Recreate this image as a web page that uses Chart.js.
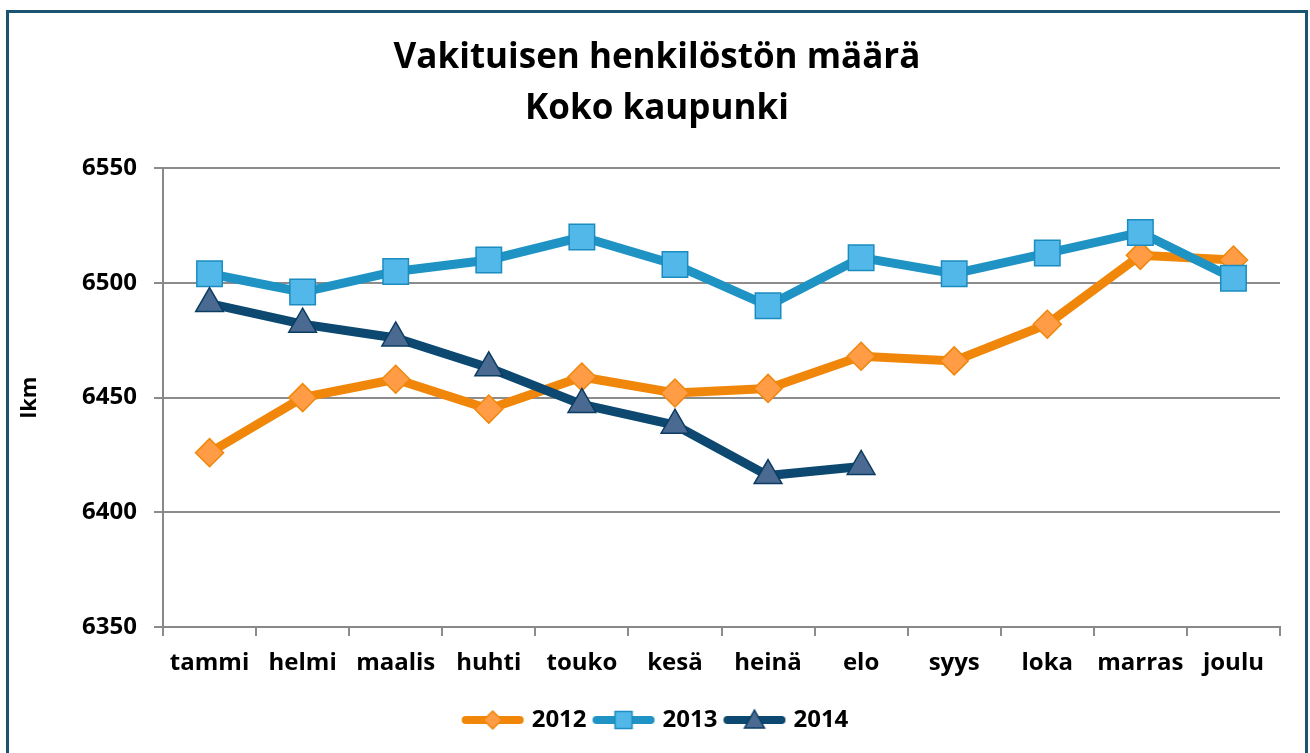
<!DOCTYPE html>
<html>
<head>
<meta charset="utf-8">
<script src="https://cdn.jsdelivr.net/npm/chart.js@4/dist/chart.umd.min.js"></script>
<style>
  html, body { margin: 0; padding: 0; background: #fff; }
  #wrap { width: 1310px; height: 753px; position: relative; }
</style>
</head>
<body>
<div id="wrap"><canvas id="lkmChart" width="1310" height="753"></canvas></div>
<script>
// kuukaudet ja sarjat
const months = ['tammi', 'helmi', 'maalis', 'huhti', 'touko', 'kesä', 'heinä', 'elo', 'syys', 'loka', 'marras', 'joulu'];
const values2012 = [6426, 6450, 6458, 6445, 6459, 6452, 6454, 6468, 6466, 6482, 6512, 6510];
const values2013 = [6504, 6496, 6505, 6510, 6520, 6508, 6490, 6511, 6504, 6513, 6522, 6502];
const values2014 = [6491, 6482, 6476, 6463, 6447, 6438, 6416, 6420, null, null, null, null];
const yTicks = [6350, 6400, 6450, 6500, 6550];

const FONT = "'Open Sans', sans-serif";

// selitteen kuvake: viiva + merkki keskellä
function legendIcon(lineColor, fill, border, shape) {
    const c = document.createElement('canvas');
    c.width = 64; c.height = 26;
    const g = c.getContext('2d');
    g.strokeStyle = lineColor;
    g.lineWidth = 8;
    g.lineCap = 'round';
    g.beginPath(); g.moveTo(5, 13); g.lineTo(59, 13); g.stroke();
    g.fillStyle = fill; g.strokeStyle = border; g.lineWidth = 1.5;
    g.beginPath();
    if (shape === 'diamond') {
        g.moveTo(32, 4); g.lineTo(41, 13); g.lineTo(32, 22); g.lineTo(23, 13); g.closePath();
    } else if (shape === 'square') {
        g.rect(23.5, 4.5, 17, 17);
    } else {
        g.moveTo(32, 3); g.lineTo(42, 21); g.lineTo(22, 21); g.closePath();
    }
    g.fill(); g.stroke();
    return c;
}

const icons = [
    legendIcon('#F0870A', '#FF9C45', '#F0870A', 'diamond'),
    legendIcon('#1F93C4', '#52B8EA', '#1C8CC0', 'square'),
    legendIcon('#0C4870', '#4A6A92', '#0B3D62', 'triangle')
];

// kehys koko kuvan ympärille
const framePlugin = {
    id: 'frame',
    beforeDraw(chart) {
        const g = chart.ctx;
        g.save();
        g.fillStyle = '#fff';
        g.fillRect(0, 0, chart.width, chart.height);
        g.strokeStyle = '#1A5470';
        g.lineWidth = 3;
        g.strokeRect(7.5, 11.5, 1299, 760);
        g.restore();
    }
};

const ctx = document.getElementById('lkmChart');
new Chart(ctx, {
    type: 'line',
    data: {
        labels: months,
        datasets: [
            {
                label: '2012',
                data: values2012,
                borderColor: '#F0870A',
                borderWidth: 9,
                pointStyle: 'rectRot',
                pointRadius: 14,
                pointBackgroundColor: '#FF9C45',
                pointBorderColor: '#F0870A',
                pointBorderWidth: 1.5,
                tension: 0,
                order: 3
            },
            {
                label: '2013',
                data: values2013,
                borderColor: '#1F93C4',
                borderWidth: 9,
                pointStyle: 'rect',
                pointRadius: 18,
                pointBackgroundColor: '#52B8EA',
                pointBorderColor: '#1C8CC0',
                pointBorderWidth: 1.5,
                tension: 0,
                order: 2
            },
            {
                label: '2014',
                data: values2014,
                borderColor: '#0C4870',
                borderWidth: 9,
                pointStyle: 'triangle',
                pointRadius: 16,
                pointBackgroundColor: '#4A6A92',
                pointBorderColor: '#0B3D62',
                pointBorderWidth: 1.5,
                tension: 0,
                spanGaps: false,
                order: 1
            }
        ]
    },
    options: {
        responsive: false,
        animation: false,
        layout: { padding: { left: 34, right: 30, top: 0, bottom: 11 } },
        scales: {
            y: {
                min: 6350,
                max: 6550,
                afterBuildTicks(scale) { scale.ticks = yTicks.map(v => ({ value: v })); },
                afterFit(scale) { scale.width = 129; },
                border: { display: true, color: '#888', width: 2 },
                grid: { color: '#8c8c8c', lineWidth: 2, tickLength: 9 },
                ticks: {
                    color: '#000',
                    padding: 17,
                    callback: v => String(v),
                    font: { family: FONT, size: 24, weight: 'bold' }
                },
                title: {
                    display: true,
                    text: 'lkm',
                    color: '#000',
                    // akselin otsikko kehyksen viereen
                    padding: { top: -17, bottom: 0 },
                    font: { family: FONT, size: 22, weight: 'bold', lineHeight: 1.2 }
                }
            },
            x: {
                offset: true,
                afterFit(scale) { scale.height = 71; },
                border: { display: true, color: '#888', width: 2 },
                grid: { offset: true, drawOnChartArea: false, color: '#8c8c8c', lineWidth: 2, tickLength: 9 },
                ticks: {
                    color: '#000',
                    padding: 13,
                    maxRotation: 0,
                    autoSkip: false,
                    font: { family: FONT, size: 24, weight: 'bold' }
                }
            }
        },
        plugins: {
            title: {
                display: true,
                text: ['Vakituisen henkilöstön määrä', 'Koko kaupunki'],
                color: '#000',
                padding: { top: 32, bottom: 34 },
                font: { family: FONT, size: 35, weight: 'bold', lineHeight: 1.46 }
            },
            legend: {
                display: true,
                position: 'bottom',
                labels: {
                    usePointStyle: true,
                    pointStyleWidth: 54,
                    padding: 10,
                    color: '#000',
                    font: { family: FONT, size: 24, weight: 'bold' },
                    generateLabels(chart) {
                        return chart.data.datasets.map((ds, i) => ({
                            text: ds.label,
                            pointStyle: icons[i],
                            fillStyle: ds.borderColor,
                            strokeStyle: ds.borderColor,
                            lineWidth: 0,
                            fontColor: '#000',
                            hidden: !chart.isDatasetVisible(i),
                            datasetIndex: i
                        }));
                    }
                }
            },
            tooltip: { enabled: false }
        }
    },
    plugins: [framePlugin]
});
</script>
</body>
</html>
